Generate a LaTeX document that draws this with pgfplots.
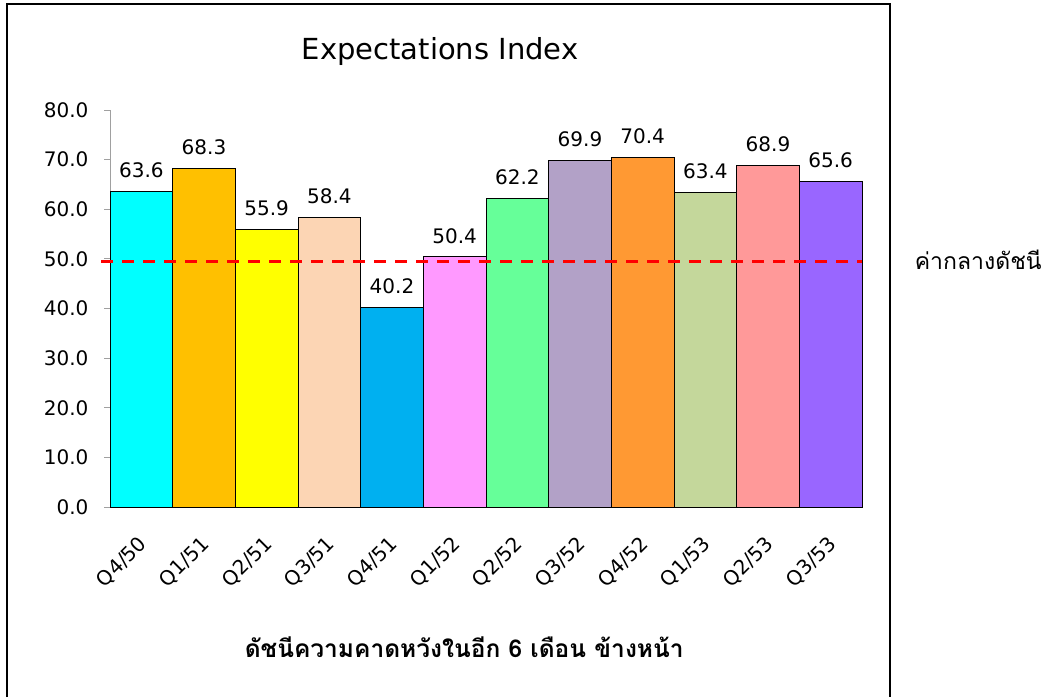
\documentclass[border=0pt]{standalone}
\usepackage{pgfplots}
\pgfplotsset{compat=1.18}
\usepackage{fontspec}
\setmainfont{DejaVu Sans}
\newfontfamily\thaifont[Script=Thai]{Loma}
\definecolor{c1}{HTML}{00FFFF}
\definecolor{c2}{HTML}{FFC000}
\definecolor{c3}{HTML}{FFFF00}
\definecolor{c4}{HTML}{FCD5B4}
\definecolor{c5}{HTML}{00B0F0}
\definecolor{c6}{HTML}{FF99FF}
\definecolor{c7}{HTML}{66FF99}
\definecolor{c8}{HTML}{B2A1C7}
\definecolor{c9}{HTML}{FF9933}
\definecolor{c10}{HTML}{C4D79B}
\definecolor{c11}{HTML}{FF9999}
\definecolor{c12}{HTML}{9966FF}
\definecolor{axgray}{HTML}{A0A0A0}
\begin{document}
\begin{tikzpicture}
\pgfplotsset{
  mybar/.style={ybar, bar width=1, bar shift=0pt, draw=black, line width=0.8pt, fill=#1,
    nodes near coords, every node near coord/.append style={font=\fontsize{20}{22}\selectfont, text=black, inner sep=2pt, yshift=11pt}}
}
\begin{axis}[
  at={(110pt,190pt)}, anchor=south west,
  scale only axis, width=752pt, height=397pt,
  xmin=-0.5, xmax=11.5, ymin=0, ymax=80,
  clip=false,
  axis x line*=bottom, axis y line*=left,
  axis line style={axgray, line width=1pt},
  ytick={0,10,...,80},
  xtick={0,...,11},
  xticklabels={Q4/50,Q1/51,Q2/51,Q3/51,Q4/51,Q1/52,Q2/52,Q3/52,Q4/52,Q1/53,Q2/53,Q3/53},
  x tick style={draw=none},
  y tick style={axgray, line width=1pt},
  tick align=outside, major tick length=6pt,
  /pgf/number format/assume math mode=true,
  /pgf/number format/fixed, /pgf/number format/zerofill, /pgf/number format/precision=1,
  ticklabel style={font=\fontsize{20}{22}\selectfont},
  yticklabel style={xshift=-12pt},
  xticklabel style={yshift=-27pt, xshift=3pt, rotate=45, anchor=east, inner sep=1pt},
  title={Expectations Index},
  title style={font=\fontsize{29}{33}\selectfont, at={(axis description cs:0.439,1.131)}, anchor=center},
  xlabel={\thaifont\bfseries ดัชนีความคาดหวังในอีก 6 เดือน ข้างหน้า},
  xlabel style={font=\fontsize{24.5}{28}\selectfont, at={(axis description cs:0.471,-0.352)}, anchor=center},
]
\addplot[mybar=c1] coordinates {(0,63.6)};
\addplot[mybar=c2] coordinates {(1,68.3)};
\addplot[mybar=c3] coordinates {(2,55.9)};
\addplot[mybar=c4] coordinates {(3,58.4)};
\addplot[mybar=c5] coordinates {(4,40.2)};
\addplot[mybar=c6] coordinates {(5,50.4)};
\addplot[mybar=c7] coordinates {(6,62.2)};
\addplot[mybar=c8] coordinates {(7,69.9)};
\addplot[mybar=c9] coordinates {(8,70.4)};
\addplot[mybar=c10] coordinates {(9,63.4)};
\addplot[mybar=c11] coordinates {(10,68.9)};
\addplot[mybar=c12] coordinates {(11,65.6)};
\addplot[sharp plot, red, line width=3pt, dash pattern=on 12pt off 9pt, mark=none] coordinates {(-0.64,49.4) (11.5,49.4)};
\node[anchor=west, inner sep=0pt, font=\thaifont\fontsize{23}{26}\selectfont] at (axis description cs:1.07,0.622) {ค่ากลางดัชนี};
\end{axis}
\draw[black, line width=1.5pt] (7pt,0pt) -- (7pt,693pt) -- (890pt,693pt) -- (890pt,0pt);
\pgfresetboundingbox
\path (0pt,0pt) rectangle (1053pt,697pt);
\end{tikzpicture}
\end{document}
